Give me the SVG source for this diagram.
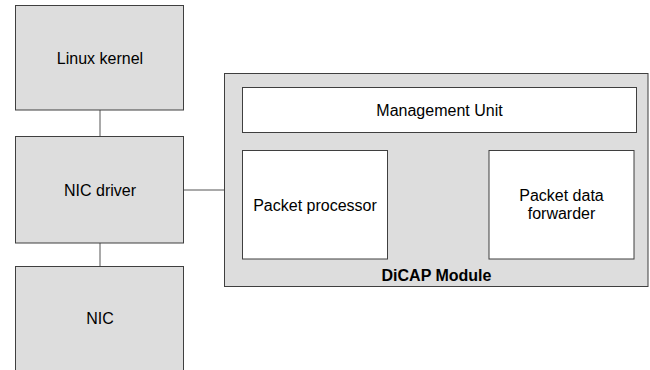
<svg xmlns="http://www.w3.org/2000/svg" width="650" height="370" viewBox="0 0 650 370">
<style>
.box{fill:#dddddd;stroke:#3f3f3f;stroke-width:1}
.inner{fill:#ffffff;stroke:#3f3f3f;stroke-width:1}
.conn{stroke:#555555;stroke-width:1;fill:none}
text{font-family:"Liberation Sans",Arial,sans-serif;font-size:16px;fill:#000000;text-anchor:middle}
.bold{font-weight:bold}
</style>
<rect x="0" y="0" width="650" height="370" fill="#ffffff"/>
<g id="connectors">
<line class="conn" x1="100" y1="110" x2="100" y2="136"/>
<line class="conn" x1="100" y1="243" x2="100" y2="266.5"/>
<line class="conn" x1="183.5" y1="190" x2="224.5" y2="190"/>
</g>
<g id="linux-kernel">
<rect class="box" x="15.5" y="5.5" width="168" height="104.5"/>
<text x="100" y="63.5">Linux kernel</text>
</g>
<g id="nic-driver">
<rect class="box" x="15.5" y="136.5" width="168" height="106.5"/>
<text x="100" y="195.5">NIC driver</text>
</g>
<g id="nic">
<rect class="box" x="15.5" y="266.5" width="168" height="120"/>
<text x="100" y="323.5">NIC</text>
</g>
<g id="dicap-module">
<rect class="box" x="224.5" y="73.5" width="423.5" height="213"/>
<text class="bold" x="436.5" y="280.5">DiCAP Module</text>
</g>
<g id="management-unit">
<rect class="inner" x="242.5" y="87.5" width="394" height="45"/>
<text x="439.5" y="115.5">Management Unit</text>
</g>
<g id="packet-processor">
<rect class="inner" x="242.5" y="150.5" width="145" height="108.5"/>
<text x="315" y="210.5">Packet processor</text>
</g>
<g id="packet-data-forwarder">
<rect class="inner" x="489" y="150.5" width="145" height="108.5"/>
<text x="561.5" y="200.5">Packet data</text>
<text x="561.5" y="219">forwarder</text>
</g>
</svg>
